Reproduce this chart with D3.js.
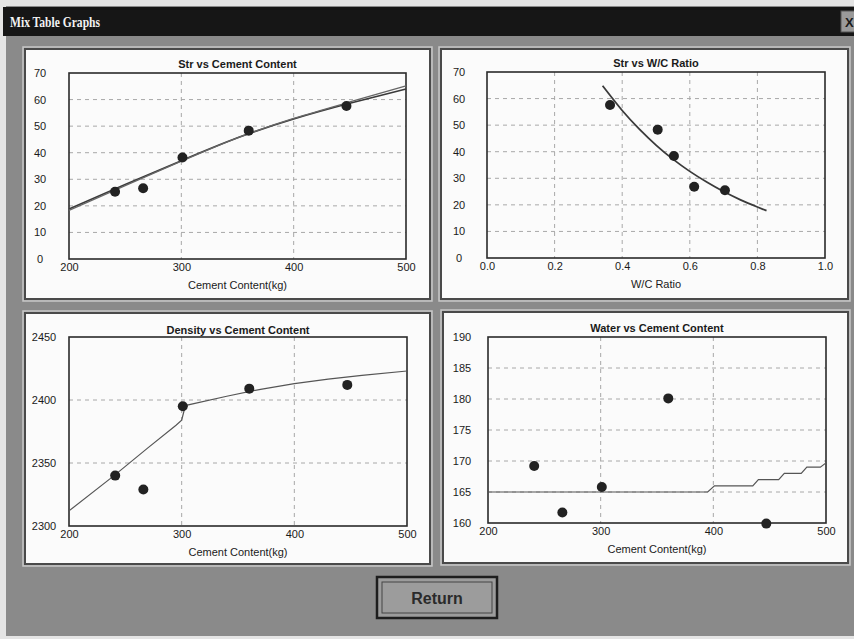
<!DOCTYPE html>
<html>
<head>
<meta charset="utf-8">
<script src="https://cdn.jsdelivr.net/npm/d3@7"></script>
<style>
  html, body { margin: 0; padding: 0; background: #e6e6e6; }
  svg { display: block; }
  text { font-family: "Liberation Sans", Arial, sans-serif; fill: #1a1a1a; }
</style>
</head>
<body>
<script>
// ---------------- DATA ----------------
// Mix points
const cementPts   = [241, 266, 301, 360, 447];
const strPts      = [25.3, 26.6, 38.2, 48.3, 57.6];
const wcPts       = [0.364, 0.505, 0.553, 0.613, 0.704];
const strWcPts    = [57.6, 48.3, 38.4, 26.8, 25.5];
const densityPts  = [2340, 2329, 2395, 2409, 2412];
const waterPts    = [169.2, 161.7, 165.8, 180.1, 159.9];

// Fitted curve: strength vs cement content (two nearly coincident lines)
const strFitX  = [200, 250, 300, 350, 400, 450, 500];
const strFitA  = [18.8, 28.0, 37.0, 45.6, 52.7, 58.6, 64.0];
const strFitB  = [18.3, 27.6, 36.8, 45.6, 52.9, 59.1, 65.2];

// Fitted curve: strength vs w/c ratio
const wcFitX   = [0.342, 0.40, 0.45, 0.50, 0.55, 0.60, 0.65, 0.70, 0.75, 0.80, 0.827];
const wcFitY   = [64.8, 55.5, 48.6, 42.5, 37.2, 32.6, 28.6, 25.0, 21.9, 19.2, 17.8];

// Density curve
const denFitX  = [200, 240, 270, 295, 300, 302, 305, 340, 370, 400, 430, 460, 500];
const denFitY  = [2312, 2340, 2362, 2380, 2384, 2391, 2396, 2403, 2408.5, 2413, 2416.5, 2419.5, 2423];

// Water curve (stepped)
const watFitX  = [200, 395, 401, 435, 440, 458, 463, 478, 483, 495, 500];
const watFitY  = [165, 165, 166, 166, 167, 167, 168, 168, 169, 169, 169.7];

// Tick labels
const cementTicks  = [200, 300, 400, 500];
const wcTicks      = [0.0, 0.2, 0.4, 0.6, 0.8, 1.0];
const strTicks     = [0, 10, 20, 30, 40, 50, 60, 70];
const densityTicks = [2300, 2350, 2400, 2450];
const waterTicks   = [160, 165, 170, 175, 180, 185, 190];

const windowTitle = "Mix Table Graphs";
const buttonLabel = "Return";

// ---------------- LAYOUT ----------------
const W = 854, H = 639;
const svg = d3.select("body").append("svg").attr("width", W).attr("height", H);

// window background
svg.append("rect").attr("x", 0).attr("y", 0).attr("width", W).attr("height", H).attr("fill", "#e4e4e4");
svg.append("rect").attr("x", 6).attr("y", 6).attr("width", W - 6).attr("height", 630).attr("fill", "#8a8a8a");
// title bar
svg.append("rect").attr("x", 3).attr("y", 7).attr("width", W - 3).attr("height", 29).attr("fill", "#161616");
svg.append("text").attr("x", 10).attr("y", 27)
  .style("font-family", "'Liberation Serif', 'Times New Roman', serif")
  .style("font-weight", "bold").style("font-size", "15px").style("fill", "#f2f2f2")
  .attr("textLength", 90).attr("lengthAdjust", "spacingAndGlyphs")
  .text(windowTitle);
// close button
svg.append("rect").attr("x", 841).attr("y", 11).attr("width", 16).attr("height", 21)
  .attr("fill", "#9a9a9a").attr("stroke", "#555");
svg.append("text").attr("x", 845).attr("y", 27).style("font-weight", "bold").style("font-size", "13px").text("X");

const fmtInt = d3.format("d");
const panels = [
  { box: {x: 25, y: 49, w: 405, h: 250}, plot: {l: 69, r: 406, t: 73, b: 259}, ylab: 40,
    title: "Str vs Cement Content", xTitle: "Cement  Content(kg)", titleY: 64,
    xDomain: [200, 500], yDomain: [0, 70], xTicks: cementTicks, yTicks: strTicks, xFmt: fmtInt,
    vGrid: [300, 400], hGrid: [10, 20, 30, 40, 50, 60],
    curves: [{x: strFitX, y: strFitA, c: "#3a3a3a", w: 1.6, smooth: true}, {x: strFitX, y: strFitB, c: "#666", w: 1.3, smooth: true}],
    px: cementPts, py: strPts },
  { box: {x: 441, y: 49, w: 407, h: 250}, plot: {l: 487, r: 825, t: 72, b: 258}, ylab: 459,
    title: "Str vs W/C Ratio", xTitle: "W/C Ratio", titleY: 63,
    xDomain: [0, 1], yDomain: [0, 70], xTicks: wcTicks, yTicks: strTicks, xFmt: d3.format(".1f"),
    vGrid: [0.2, 0.4, 0.6, 0.8], hGrid: [10, 20, 30, 40, 50, 60],
    curves: [{x: wcFitX, y: wcFitY, c: "#3a3a3a", w: 1.8, smooth: true}],
    px: wcPts, py: strWcPts },
  { box: {x: 25, y: 313, w: 405, h: 251}, plot: {l: 69, r: 407, t: 337, b: 526}, ylab: 44,
    title: "Density vs Cement Content", xTitle: "Cement  Content(kg)", titleY: 330,
    xDomain: [200, 500], yDomain: [2300, 2450], xTicks: cementTicks, yTicks: densityTicks, xFmt: fmtInt,
    vGrid: [300, 400], hGrid: [2350, 2400],
    curves: [{x: denFitX, y: denFitY, c: "#555", w: 1.2, smooth: false}],
    px: cementPts, py: densityPts },
  { box: {x: 443, y: 312, w: 405, h: 251}, plot: {l: 488, r: 826, t: 337, b: 523}, ylab: 462,
    title: "Water vs Cement Content", xTitle: "Cement  Content(kg)", titleY: 328,
    xDomain: [200, 500], yDomain: [160, 190], xTicks: cementTicks, yTicks: waterTicks, xFmt: fmtInt,
    vGrid: [300, 400], hGrid: [165, 170, 175, 180, 185],
    curves: [{x: watFitX, y: watFitY, c: "#555", w: 1.2, smooth: false}],
    px: cementPts, py: waterPts }
];

panels.forEach(p => {
  const g = svg.append("g");
  const b = p.box;
  // bevelled panel frame
  g.append("rect").attr("x", b.x - 2).attr("y", b.y - 2).attr("width", b.w + 4).attr("height", b.h + 4)
    .attr("fill", "none").attr("stroke", "#c8c8c8").attr("stroke-width", 1.5);
  g.append("rect").attr("x", b.x).attr("y", b.y).attr("width", b.w).attr("height", b.h)
    .attr("fill", "#fbfbfb").attr("stroke", "#4a4a4a").attr("stroke-width", 2);

  const x = d3.scaleLinear().domain(p.xDomain).range([p.plot.l, p.plot.r]);
  const y = d3.scaleLinear().domain(p.yDomain).range([p.plot.b, p.plot.t]);

  // grid
  g.selectAll(".vg").data(p.vGrid).join("line")
    .attr("x1", d => x(d)).attr("x2", d => x(d)).attr("y1", p.plot.t).attr("y2", p.plot.b)
    .attr("stroke", "#a8a8a8").attr("stroke-width", 1).attr("stroke-dasharray", "4,4");
  g.selectAll(".hg").data(p.hGrid).join("line")
    .attr("x1", p.plot.l).attr("x2", p.plot.r).attr("y1", d => y(d)).attr("y2", d => y(d))
    .attr("stroke", "#a8a8a8").attr("stroke-width", 1).attr("stroke-dasharray", "4,4");

  // axes with d3 axis generators (lines hidden, labels only)
  const xAxis = g.append("g").attr("transform", `translate(0,${p.plot.b})`)
    .call(d3.axisBottom(x).tickValues(p.xTicks).tickFormat(p.xFmt).tickSize(0).tickPadding(4));
  xAxis.select(".domain").remove();
  xAxis.selectAll("text").style("font-size", "11px").style("font-family", "'Liberation Sans', Arial, sans-serif").attr("fill", "#1a1a1a");

  const yAxis = g.append("g").attr("transform", `translate(${p.ylab},0)`)
    .call(d3.axisLeft(y).tickValues(p.yTicks).tickFormat(fmtInt).tickSize(0).tickPadding(0));
  yAxis.select(".domain").remove();
  yAxis.selectAll("text").attr("text-anchor", "middle").attr("x", 0)
    .style("font-size", "11px").style("font-family", "'Liberation Sans', Arial, sans-serif").attr("fill", "#1a1a1a");

  // plot border
  g.append("rect").attr("x", p.plot.l).attr("y", p.plot.t)
    .attr("width", p.plot.r - p.plot.l).attr("height", p.plot.b - p.plot.t)
    .attr("fill", "none").attr("stroke", "#2a2a2a").attr("stroke-width", 1.6);

  // curves
  p.curves.forEach(c => {
    const pts = c.x.map((v, i) => [v, c.y[i]]);
    const line = d3.line().x(d => x(d[0])).y(d => y(d[1]))
      .curve(c.smooth ? d3.curveNatural : d3.curveLinear);
    g.append("path").attr("d", line(pts)).attr("fill", "none")
      .attr("stroke", c.c).attr("stroke-width", c.w);
  });

  // points
  g.selectAll(".pt").data(p.px.map((v, i) => [v, p.py[i]])).join("circle")
    .attr("cx", d => x(d[0])).attr("cy", d => y(d[1])).attr("r", 5).attr("fill", "#222");

  // titles
  const cx = (p.plot.l + p.plot.r) / 2;
  g.append("text").attr("x", cx).attr("y", p.titleY + 4).attr("text-anchor", "middle")
    .style("font-size", "11px").style("font-weight", "bold").text(p.title);
  g.append("text").attr("x", cx).attr("y", p.plot.b + 30).attr("text-anchor", "middle")
    .style("font-size", "11px").text(p.xTitle);
});

// Return button
const bx = 377, by = 577, bw = 120, bh = 41;
svg.append("rect").attr("x", bx).attr("y", by).attr("width", bw).attr("height", bh)
  .attr("fill", "#9c9c9c").attr("stroke", "#1e1e1e").attr("stroke-width", 2.5);
svg.append("rect").attr("x", bx + 5).attr("y", by + 5).attr("width", bw - 10).attr("height", bh - 10)
  .attr("fill", "none").attr("stroke", "#444").attr("stroke-width", 1);
svg.append("text").attr("x", bx + bw / 2).attr("y", by + bh / 2 + 6).attr("text-anchor", "middle")
  .style("font-size", "16px").style("font-weight", "bold").style("fill", "#2a2a2a").text(buttonLabel);
</script>
</body>
</html>
